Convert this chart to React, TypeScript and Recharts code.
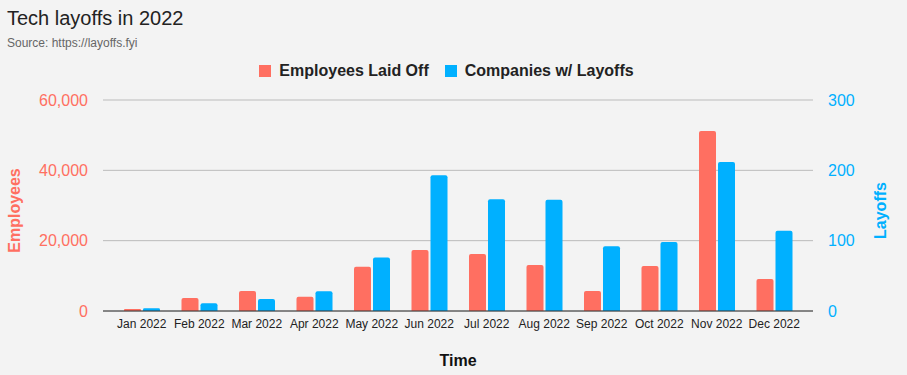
import {
  BarChart,
  Bar,
  XAxis,
  YAxis,
  CartesianGrid,
  Legend,
} from "recharts";

const months = [
  "Jan 2022", "Feb 2022", "Mar 2022", "Apr 2022", "May 2022", "Jun 2022",
  "Jul 2022", "Aug 2022", "Sep 2022", "Oct 2022", "Nov 2022", "Dec 2022",
];
const employeesLaidOff = [
  560, 3700, 5700, 4070, 12600, 17350, 16200, 13080, 5690, 12800, 51180, 9100,
];
const companiesWithLayoffs = [4, 11, 17, 28, 76, 193, 159, 158, 92, 98, 212, 114];

const employeeTicks = [0, 20000, 40000, 60000];
const layoffTicks = [0, 100, 200, 300];

const RED = "#ff6f61";
const BLUE = "#00b0ff";
const FONT = "'Liberation Sans', Arial, sans-serif";

const data = months.map((month, i) => ({
  month,
  employees: employeesLaidOff[i],
  companies: companiesWithLayoffs[i],
}));

// Rotated axis title, sits a little below the middle of the plot area
function AxisTitle({
  viewBox,
  value,
  fill,
  cx,
}: {
  viewBox?: { y: number; height: number };
  value: string;
  fill: string;
  cx: number;
}) {
  if (!viewBox) return null;
  const cy = viewBox.y + viewBox.height / 2 + 5;
  return (
    <text
      x={cx}
      y={cy}
      transform={`rotate(-90 ${cx} ${cy})`}
      textAnchor="middle"
      dominantBaseline="central"
      fill={fill}
      fontFamily={FONT}
      fontSize={16}
      fontWeight="bold"
    >
      {value}
    </text>
  );
}

function LegendContent() {
  const items = [
    { label: "Employees Laid Off", color: RED },
    { label: "Companies w/ Layoffs", color: BLUE },
  ];
  return (
    <div
      style={{
        display: "flex",
        justifyContent: "center",
        gap: 16,
        height: 18,
        marginLeft: -14,
      }}
    >
      {items.map((it) => (
        <div key={it.label} style={{ display: "flex", alignItems: "center" }}>
          <span
            style={{
              width: 12,
              height: 12,
              background: it.color,
              display: "inline-block",
              marginRight: 8,
            }}
          />
          <span
            style={{
              fontFamily: FONT,
              fontSize: 16,
              fontWeight: "bold",
              color: "#222",
              lineHeight: "18px",
            }}
          >
            {it.label}
          </span>
        </div>
      ))}
    </div>
  );
}

export default function App() {
  return (
    <div
      style={{
        position: "fixed",
        left: 0,
        top: 0,
        width: 907,
        height: 375,
        background: "#f3f3f3",
        overflow: "hidden",
      }}
    >
      <div
        style={{
          position: "absolute",
          left: 7,
          top: 7,
          fontFamily: FONT,
          fontSize: 20,
          color: "#222",
        }}
      >
        Tech layoffs in 2022
      </div>
      <div
        style={{
          position: "absolute",
          left: 7,
          top: 36,
          fontFamily: FONT,
          fontSize: 12,
          color: "#666",
        }}
      >
        Source: https://layoffs.fyi
      </div>
      <div style={{ position: "absolute", left: 0, top: 0 }}>
        <BarChart
          width={907}
          height={375}
          data={data}
          margin={{ top: 82, right: 0, bottom: 0, left: 0 }}
          barSize={17}
          barGap={2}
        >
          <CartesianGrid
            vertical={false}
            stroke="#bbbbbb"
            yAxisId="left"
          />
          <Legend
            content={<LegendContent />}
            verticalAlign="top"
            wrapperStyle={{ top: 62, left: 0, width: 907 }}
          />
          <XAxis
            dataKey="month"
            height={64}
            padding={{ left: 10, right: 10 }}
            axisLine={{ stroke: "#333" }}
            tickLine={false}
            interval={0}
            tick={{ fontFamily: FONT, fontSize: 12, fill: "#222" }}
            label={{
              value: "Time",
              position: "insideBottom",
              offset: 9,
              fill: "#111",
              fontFamily: FONT,
              fontSize: 16,
              fontWeight: "bold",
            }}
          />
          <YAxis
            yAxisId="left"
            width={103}
            domain={[0, 60000]}
            ticks={employeeTicks}
            axisLine={false}
            tickLine={false}
            tickMargin={9}
            tickFormatter={(v: number) => v.toLocaleString("en-US")}
            tick={{ fontFamily: FONT, fontSize: 16, fill: RED }}
            label={<AxisTitle value="Employees" fill={RED} cx={14} />}
          />
          <YAxis
            yAxisId="right"
            orientation="right"
            width={94}
            domain={[0, 300]}
            ticks={layoffTicks}
            axisLine={false}
            tickLine={false}
            tickMargin={9}
            tick={{ fontFamily: FONT, fontSize: 16, fill: BLUE }}
            label={<AxisTitle value="Layoffs" fill={BLUE} cx={880} />}
          />
          <Bar
            yAxisId="left"
            dataKey="employees"
            name="Employees Laid Off"
            fill={RED}
            radius={[2, 2, 0, 0]}
            isAnimationActive={false}
          />
          <Bar
            yAxisId="right"
            dataKey="companies"
            name="Companies w/ Layoffs"
            fill={BLUE}
            radius={[2, 2, 0, 0]}
            isAnimationActive={false}
          />
        </BarChart>
      </div>
    </div>
  );
}
